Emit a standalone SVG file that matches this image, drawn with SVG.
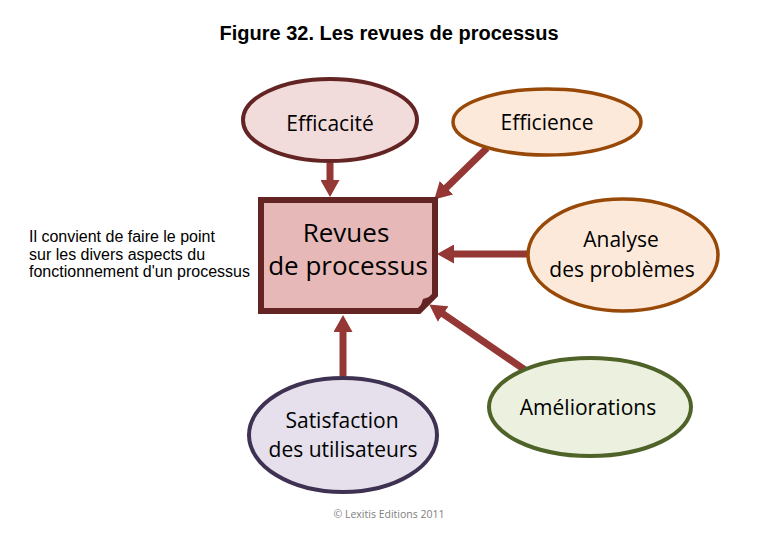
<svg xmlns="http://www.w3.org/2000/svg" width="780" height="540" viewBox="0 0 780 540">
<style>
.node{font-family:"Open Sans","DejaVu Sans",sans-serif;fill:#000;text-anchor:middle}
.lbl{font-size:21px}
.conn line{stroke:#953735;stroke-width:7;fill:none}
</style>
<defs>
<marker id="ah" markerUnits="userSpaceOnUse" markerWidth="17" markerHeight="19" refX="2" refY="9.5" orient="auto" viewBox="0 0 17 19">
<path d="M0,0 L17,9.5 L0,19 Z" fill="#953735"/>
</marker>
</defs>
<rect width="780" height="540" fill="#fff"/>
<text x="389" y="40" font-family="Liberation Sans,Arial,sans-serif" font-weight="bold" font-size="20" text-anchor="middle">Figure 32. Les revues de processus</text>
<g id="note" font-family="Liberation Sans,Arial,sans-serif" font-size="16" fill="#000">
<text x="29" y="242">Il convient de faire le point</text>
<text x="29" y="260">sur les divers aspects du</text>
<text x="29" y="277">fonctionnement d'un processus</text>
</g>
<g id="connectors" class="conn">
<line x1="330" y1="163" x2="330" y2="182" marker-end="url(#ah)"/>
<line x1="487" y1="148" x2="445" y2="189" marker-end="url(#ah)"/>
<line x1="527" y1="254" x2="452" y2="254" marker-end="url(#ah)"/>
<line x1="525" y1="370" x2="441.6" y2="312.9" marker-end="url(#ah)"/>
<line x1="343" y1="376" x2="343" y2="330" marker-end="url(#ah)"/>
</g>
<g id="efficacite">
<ellipse cx="330" cy="120" rx="87" ry="41" fill="#f2dcdb" stroke="#632423" stroke-width="4"/>
<text class="node lbl" x="330" y="131">Efficacité</text>
</g>
<g id="efficience">
<ellipse cx="547" cy="122" rx="94" ry="33" fill="#fde9d9" stroke="#984807" stroke-width="3.5"/>
<text class="node lbl" x="547" y="130">Efficience</text>
</g>
<g id="revues">
<path d="M261,200 H435 V295 L419,311 H261 Z" fill="#e6b9b8" stroke="#632423" stroke-width="6" stroke-linejoin="miter"/>
<path d="M419,311 L423,299 L435,295 Z" fill="#632423"/>
<text class="node" x="346" y="242" font-size="26">Revues</text>
<text class="node" x="348" y="275" font-size="26">de processus</text>
</g>
<g id="analyse">
<ellipse cx="623" cy="255" rx="95" ry="56" fill="#fde9d9" stroke="#984807" stroke-width="3.5"/>
<text class="node lbl" x="621" y="247">Analyse</text>
<text class="node lbl" x="622" y="277">des problèmes</text>
</g>
<g id="satisfaction">
<ellipse cx="343" cy="435" rx="94" ry="57" fill="#e5e0ec" stroke="#3f3151" stroke-width="4"/>
<text class="node lbl" x="342" y="428">Satisfaction</text>
<text class="node lbl" x="343" y="457">des utilisateurs</text>
</g>
<g id="ameliorations">
<ellipse cx="590" cy="407" rx="101" ry="49" fill="#ebf1de" stroke="#4f6228" stroke-width="4"/>
<text class="node lbl" x="588" y="415">Améliorations</text>
</g>
<text x="389" y="518" font-family="Open Sans,DejaVu Sans,sans-serif" font-size="10.5" fill="#808080" text-anchor="middle">© Lexitis Editions 2011</text>
</svg>
